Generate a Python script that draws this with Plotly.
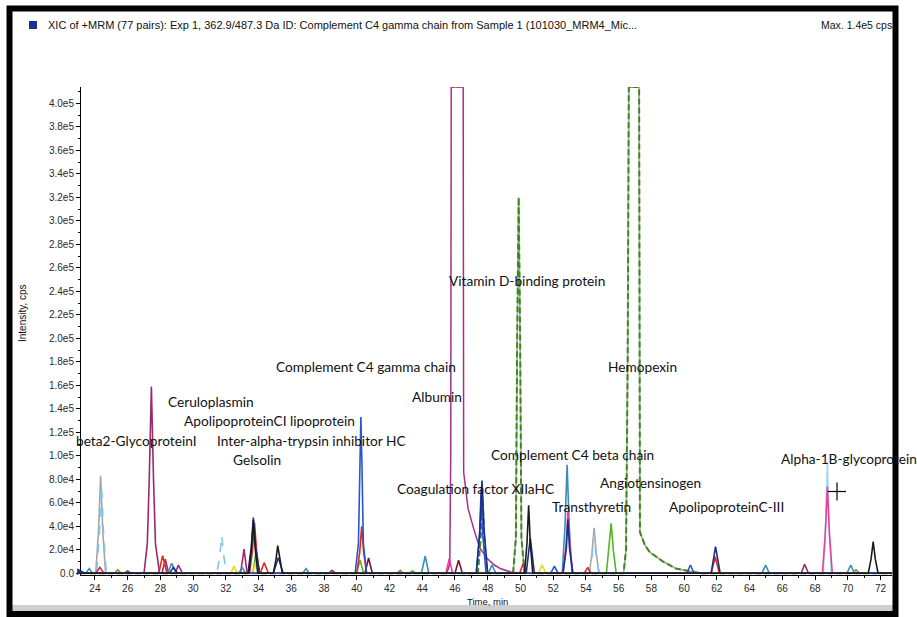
import plotly.graph_objects as go

# ---------------- data (retention time in min, intensity in cps) ----------------
gray_t = [23.15, 24.05, 24.22, 24.35, 24.48, 24.65, 49.55, 49.72, 49.8, 49.89, 49.98, 50.06, 50.25,
          54.2, 54.37, 54.5, 54.63, 54.8, 56.3, 56.45, 56.55, 56.62, 57.25, 57.3, 57.6, 57.9, 58.7,
          59.5, 60.4, 61.0, 72.7]
gray_i = [0, 0, 3.6e4, 8.3e4, 3.6e4, 0, 0, 3e4, 2e5, 3.2e5, 2e5, 3e4, 0,
          0, 1.7e4, 3.87e4, 1.7e4, 0, 0, 2e4, 1.8e5, 4.14e5, 4.14e5, 3.5e4, 2.4e4, 1.8e4, 1e4,
          4e3, 1.5e3, 0, 0]

ltblue_dash_t = [23.15, 24.1, 24.27, 24.4, 24.53, 24.7, 31.45, 31.62, 31.75, 31.88, 32.05,
                 54.2, 54.38, 54.5, 54.62, 54.8, 72.7]
ltblue_dash_i = [0, 0, 3.3e4, 7.5e4, 3.3e4, 0, 0, 1.4e4, 3.2e4, 1.4e4, 0,
                 0, 1.5e4, 3.3e4, 1.5e4, 0, 0]

ltblue_t = [23.15, 68.5, 68.65, 68.75, 68.85, 69.0, 72.7]
ltblue_i = [0, 0, 4.2e4, 9.5e4, 4.2e4, 0, 0]

green_dash_t = [23.15, 47.4, 47.56, 47.68, 47.8, 47.96, 49.55, 49.72, 49.8, 49.89, 49.98, 50.06, 50.25,
                56.3, 56.45, 56.55, 56.62, 57.25, 57.3, 57.6, 57.9, 58.7, 59.5, 60.4, 61.0, 72.7]
green_dash_i = [0, 0, 2.8e4, 6.5e4, 2.8e4, 0, 0, 3e4, 2e5, 3.2e5, 2e5, 3e4, 0,
                0, 2e4, 1.8e5, 4.14e5, 4.14e5, 3.5e4, 2.4e4, 1.8e4, 1e4, 4e3, 1.5e3, 0, 0]

albumin_t = [23.15, 45.5, 45.68, 45.74, 45.77, 46.5, 46.53, 46.8, 47.14, 47.5, 47.96, 48.4, 48.77,
             49.4, 50.0, 72.7]
albumin_i = [0, 0, 8e3, 1e5, 4.14e5, 4.14e5, 8.6e4, 5.5e4, 3.8e4, 2.2e4, 1.27e4, 7e3, 4e3,
             1e3, 0, 0]

purple_t = [23.15, 25.8, 26.0, 26.2, 27.0, 27.2, 27.32, 27.45, 27.58, 27.7, 27.95, 28.1, 28.3, 28.5,
            28.9, 29.1, 29.35, 32.9, 33.11, 33.3, 38.3, 38.48, 38.7, 67.15, 67.36, 67.6, 72.7]
purple_i = [0, 0, 2e3, 0, 0, 2.5e4, 8e4, 1.59e5, 8e4, 2.5e4, 0, 0, 1.2e4, 0,
            0, 7e3, 0, 0, 2.06e4, 0, 0, 2.5e3, 0, 0, 7.6e3, 0, 0]

teal_t = [23.15, 23.45, 23.65, 23.85, 28.45, 28.69, 28.95, 32.8, 33.0, 33.2, 36.7, 36.9, 37.1,
          43.95, 44.18, 44.4, 48.05, 48.26, 48.5, 52.55, 52.72, 52.85, 52.98, 53.15,
          64.75, 64.98, 65.2, 69.95, 70.18, 70.4, 72.7]
teal_i = [0, 0, 4e3, 0, 0, 8.5e3, 0, 0, 5e3, 0, 0, 4e3, 0,
          0, 1.47e4, 0, 0, 7e3, 0, 0, 4e4, 9.24e4, 4e4, 0,
          0, 7e3, 0, 0, 7e3, 0, 0]

red_t = [23.15, 24.05, 24.3, 24.55, 27.9, 28.14, 28.4, 33.45, 33.62, 33.75, 33.88, 34.05, 34.1, 34.34,
         34.6, 40.0, 40.18, 40.3, 40.42, 40.6, 49.95, 50.16, 50.35, 53.9, 54.11, 54.3,
         61.65, 61.9, 62.15, 72.7]
red_i = [0, 0, 5e3, 0, 0, 1.5e4, 0, 0, 1.9e4, 4.3e4, 1.9e4, 0, 0, 9e3,
         0, 0, 1.8e4, 4.0e4, 1.8e4, 0, 0, 8e3, 0, 0, 5e3, 0,
         0, 1.4e4, 0, 0]

pink_t = [23.15, 45.45, 45.65, 45.85, 52.6, 52.78, 52.9, 53.02, 53.2, 68.45, 68.62, 68.75, 68.88, 69.05, 72.7]
pink_i = [0, 0, 1.27e4, 0, 0, 2.3e4, 5.25e4, 2.3e4, 0, 0, 3.3e4, 7.35e4, 3.3e4, 0, 0]

navy_t = [23.15, 28.55, 28.8, 29.05, 33.35, 33.55, 33.68, 33.82, 34.05, 34.9, 35.2, 35.5,
          47.3, 47.52, 47.65, 47.78, 48.0, 50.35, 50.6, 50.85, 52.6, 52.8, 52.9, 53.0, 53.2,
          61.65, 61.92, 62.2, 72.7]
navy_i = [0, 0, 5e3, 0, 0, 2.2e4, 4.75e4, 2.2e4, 0, 0, 1.33e4, 0,
          0, 3.6e4, 7.9e4, 3.6e4, 0, 0, 3.0e4, 0, 0, 2.1e4, 4.6e4, 2.1e4, 0,
          0, 2.26e4, 0, 0]

blue_t = [23.15, 39.9, 40.1, 40.18, 40.25, 40.32, 40.4, 40.6, 47.3, 47.5, 47.6, 47.7, 47.9,
          51.85, 52.07, 52.3, 60.15, 60.39, 60.6, 72.7]
blue_i = [0, 0, 2.5e4, 9e4, 1.33e5, 9e4, 2.5e4, 0, 0, 3.2e4, 7.2e4, 3.2e4, 0,
          0, 6e3, 0, 0, 7e3, 0, 0]

brgreen_t = [23.15, 33.65, 33.85, 34.05, 39.98, 40.2, 40.42, 43.2, 43.4, 43.6, 55.25, 55.4, 55.54,
             55.68, 55.85, 72.7]
brgreen_i = [0, 0, 1.84e4, 0, 0, 1.1e4, 0, 0, 2e3, 0, 0, 1.9e4, 4.24e4,
             1.9e4, 0, 0]

black_t = [23.15, 33.4, 33.56, 33.68, 33.8, 33.95, 34.9, 35.05, 35.17, 35.3, 35.45, 50.25, 50.4, 50.5,
           50.6, 50.75, 71.25, 71.42, 71.55, 71.68, 71.85, 72.7]
black_i = [0, 0, 2e4, 4.5e4, 2e4, 0, 0, 1.05e4, 2.35e4, 1.05e4, 0, 0, 2.6e4, 5.79e4,
           2.6e4, 0, 0, 1.2e4, 2.69e4, 1.2e4, 0, 0]

maroon_t = [23.15, 40.5, 40.72, 40.95, 46.0, 46.22, 46.45, 72.7]
maroon_i = [0, 0, 1.3e4, 0, 0, 1.1e4, 0, 0]

yellow_t = [23.15, 32.3, 32.5, 32.7, 33.6, 33.8, 34.0, 51.1, 51.32, 51.55, 72.7]
yellow_i = [0, 0, 6e3, 0, 0, 8e3, 0, 0, 7e3, 0, 0]

olive_t = [23.15, 25.2, 25.4, 25.6, 42.45, 42.65, 42.85, 70.3, 70.5, 70.7, 72.7]
olive_i = [0, 0, 3e3, 0, 0, 2.5e3, 0, 0, 3e3, 0, 0]

saturation_level = 4.14e5
saturated_ranges = [(45.77, 46.5), (56.62, 57.25)]

x_ticks = list(range(24, 73, 2))
y_ticks = [0, 2e4, 4e4, 6e4, 8e4, 1e5, 1.2e5, 1.4e5, 1.6e5, 1.8e5, 2e5, 2.2e5, 2.4e5, 2.6e5,
           2.8e5, 3e5, 3.2e5, 3.4e5, 3.6e5, 3.8e5, 4e5]
y_tick_text = ["0.0", "2.0e4", "4.0e4", "6.0e4", "8.0e4", "1.0e5", "1.2e5", "1.4e5", "1.6e5", "1.8e5",
               "2.0e5", "2.2e5", "2.4e5", "2.6e5", "2.8e5", "3.0e5", "3.2e5", "3.4e5", "3.6e5", "3.8e5",
               "4.0e5"]

protein_labels = ["Complement C4 gamma chain", "Ceruloplasmin", "ApolipoproteinCI lipoprotein",
                  "beta2-GlycoproteinI", "Inter-alpha-trypsin inhibitor HC", "Gelsolin", "Albumin",
                  "Vitamin D-binding protein", "Hemopexin", "Complement C4 beta chain",
                  "Coagulation factor XIIaHC", "Transthyretin", "Angiotensinogen",
                  "ApolipoproteinC-III", "Alpha-1B-glycoprotein"]

header_text = "XIC of +MRM (77 pairs): Exp 1, 362.9/487.3 Da ID: Complement C4 gamma chain from Sample 1 (101030_MRM4_Mic..."
max_text = "Max. 1.4e5 cps"

# ---------------- layout geometry (pixels) ----------------
W, H = 917, 617
L, R, T, B = 81, 892, 87, 575


def px(x):
    return (x - L) / (R - L)


def py(y):
    return (B - y) / (B - T)


label_pos = [(274, 366), (166, 401), (182, 420), (74, 440), (215, 440), (231, 459), (410, 396),
             (447, 280), (606, 366), (489, 454), (395, 488), (550, 506), (598, 482),
             (667, 506), (779, 458)]

fig = go.Figure()

styles = [
    (gray_t, gray_i, "#a6a6a6", 1.6, "solid"),
    (ltblue_dash_t, ltblue_dash_i, "#86c3ea", 1.6, "dash"),
    (green_dash_t, green_dash_i, "#3b8b19", 2.0, "6px,3px"),
    (albumin_t, albumin_i, "#a3308a", 1.5, "solid"),
    (purple_t, purple_i, "#9b2a6b", 1.6, "solid"),
    (teal_t, teal_i, "#3a8db5", 1.6, "solid"),
    (brgreen_t, brgreen_i, "#55b526", 1.6, "solid"),
    (yellow_t, yellow_i, "#e4dc14", 1.6, "solid"),
    (olive_t, olive_i, "#8c8c2a", 1.6, "solid"),
    (ltblue_t, ltblue_i, "#a6d8f5", 1.6, "solid"),
    (pink_t, pink_i, "#e8409a", 1.6, "solid"),
    (red_t, red_i, "#e2291c", 1.6, "solid"),
    (maroon_t, maroon_i, "#6b1d33", 1.6, "solid"),
    (blue_t, blue_i, "#2b55cc", 1.6, "solid"),
    (navy_t, navy_i, "#1a2d8c", 1.6, "solid"),
    (black_t, black_i, "#1c1c1c", 1.6, "solid"),
]
for t, i, c, w, d in styles:
    fig.add_trace(go.Scatter(x=t, y=i, mode="lines", line=dict(color=c, width=w, dash=d),
                             hoverinfo="skip", showlegend=False))

for a, b in saturated_ranges:
    fig.add_trace(go.Scatter(x=[a, b], y=[saturation_level, saturation_level], mode="lines",
                             line=dict(color="#e03030", width=1.5, dash="dot"),
                             hoverinfo="skip", showlegend=False))

tick_font = dict(family="Liberation Sans, Arial, sans-serif", size=10, color="#2a2a2a")

fig.update_xaxes(range=[23.15, 72.7], tickvals=x_ticks, ticks="outside", ticklen=4, tickwidth=1,
                 tickcolor="black", showline=True, linecolor="black", linewidth=1, showgrid=False,
                 zeroline=False, tickfont=tick_font,
                 minor=dict(dtick=1, tick0=0, ticks="outside", ticklen=2, tickcolor="black"))
fig.update_yaxes(range=[-1500, 4.14e5], tickvals=y_ticks, ticktext=y_tick_text, ticks="outside",
                 ticklen=4, tickwidth=1, tickcolor="black", showline=True, linecolor="black",
                 linewidth=1, showgrid=False, zeroline=False, tickfont=tick_font,
                 minor=dict(dtick=1e4, tick0=0, ticks="outside", ticklen=2, tickcolor="black"))

ann = []
for txt, (x, y) in zip(protein_labels, label_pos):
    ann.append(dict(text=txt, x=px(x), y=py(y), xref="paper", yref="paper", xanchor="left",
                    yanchor="middle", showarrow=False,
                    font=dict(family="Lato, Carlito, sans-serif", size=13.7, color="#111111")))
ann.append(dict(text=header_text, x=px(46), y=py(25), xref="paper", yref="paper", xanchor="left",
                yanchor="middle", showarrow=False,
                font=dict(family="Liberation Sans Narrow, Liberation Sans, Arial, sans-serif", size=11,
                          color="#111111")))
ann.append(dict(text=max_text, x=px(819), y=py(25), xref="paper", yref="paper", xanchor="left",
                yanchor="middle", showarrow=False,
                font=dict(family="Liberation Sans Narrow, Liberation Sans, Arial, sans-serif", size=10.5,
                          color="#111111")))
ann.append(dict(text="Time, min", x=px(487), y=py(601), xref="paper", yref="paper", xanchor="center",
                yanchor="middle", showarrow=False,
                font=dict(family="Liberation Sans, Arial, sans-serif", size=9.5, color="#111111")))
ann.append(dict(text="Intensity, cps", x=px(22), y=py(313), xref="paper", yref="paper",
                xanchor="center", yanchor="middle", showarrow=False, textangle=-90,
                font=dict(family="Liberation Sans, Arial, sans-serif", size=10, color="#111111")))
ann.append(dict(text="\u25B6", x=px(80), y=py(571), xref="paper", yref="paper", xanchor="center",
                yanchor="middle", showarrow=False,
                font=dict(family="DejaVu Sans, sans-serif", size=9, color="#1a2d8c")))

shapes = [
    dict(type="rect", xref="paper", yref="paper", x0=px(12), x1=px(893), y0=py(605), y1=py(611),
         fillcolor="#cfcfcf", line=dict(width=0), layer="below"),
    dict(type="rect", xref="paper", yref="paper", x0=px(9.5), x1=px(895.5), y0=py(8.5), y1=py(614),
         line=dict(color="black", width=6), fillcolor="rgba(0,0,0,0)"),
    dict(type="rect", xref="paper", yref="paper", x0=px(29), x1=px(37), y0=py(21), y1=py(29),
         fillcolor="#1c2f8a", line=dict(width=0)),
    dict(type="line", xref="paper", yref="paper", x0=px(828), x1=px(846), y0=py(491.5), y1=py(491.5),
         line=dict(color="black", width=1.2)),
    dict(type="line", xref="paper", yref="paper", x0=px(837), x1=px(837), y0=py(482.5), y1=py(500.5),
         line=dict(color="black", width=1.2)),
]

fig.update_layout(width=W, height=H, autosize=False,
                  margin=dict(l=L, r=W - R, t=T, b=H - B, pad=0),
                  paper_bgcolor="white", plot_bgcolor="white",
                  annotations=ann, shapes=shapes, showlegend=False)

fig.write_html("out.html")
